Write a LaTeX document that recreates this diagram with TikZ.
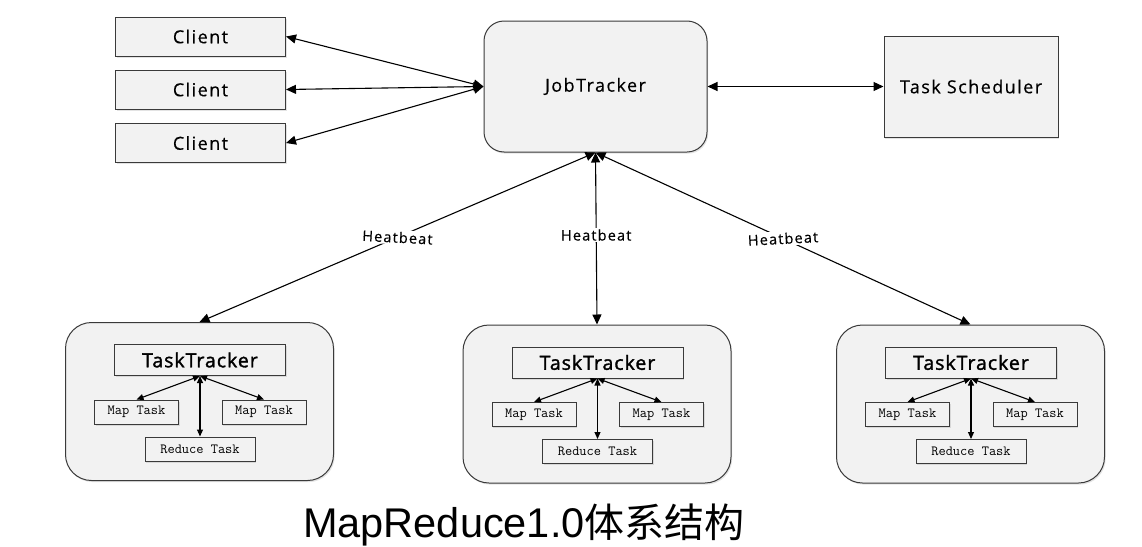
\documentclass[tikz,border=0pt]{standalone}
\usepackage{fontspec}
\setmainfont{Open Sans}[LetterSpace=8,FakeBold=0.4]
\newfontfamily\titlefont{Liberation Sans}
\newfontfamily\cjkfont{Noto Sans CJK SC}
\newfontfamily\ttheadfont{Open Sans}[LetterSpace=5,FakeBold=1.6]
\newfontfamily\hbfont{Open Sans}[LetterSpace=8,FakeBold=0.3]
\usetikzlibrary{arrows.meta,shadows}
\definecolor{boxfill}{HTML}{F2F2F2}
\definecolor{boxline}{HTML}{3A3A3A}
\tikzset{
  shade/.style={drop shadow={opacity=0.22,shadow xshift=1.2pt,shadow yshift=-1.6pt}},
  plainbox/.style={draw=boxline,line width=1pt,fill=boxfill,shade,inner sep=0pt,font=\fontsize{18}{20}\selectfont},
  roundbox/.style={plainbox,rounded corners=20pt},
  outerbox/.style={draw=boxline,line width=1pt,fill=boxfill,shade,rounded corners=26pt,minimum width=268pt,minimum height=158pt,inner sep=0pt},
  ttbox/.style={plainbox,minimum width=171pt,minimum height=31pt,font=\ttheadfont\fontsize{19.5}{21}\selectfont},
  taskbox/.style={plainbox,minimum height=24pt,font=\ttfamily\fontsize{14}{16}\selectfont},
  conn/.style={draw=black,line width=1.1pt,{Triangle[length=10pt,width=9pt]}-{Triangle[length=10pt,width=9pt]}},
  small/.style={draw=black,line width=1.1pt,{Triangle[length=7pt,width=6pt]}-{Triangle[length=7pt,width=6pt]}},
  hb/.style={fill=white,inner sep=1.5pt,font=\hbfont\fontsize{14.5}{16}\selectfont},
  tracker/.pic={
    \node[outerbox] (-outer) at (0,0) {};
    \node[ttbox] (-tt) at (0.5,-41.5) {TaskTracker};
    \node[taskbox,minimum width=84pt] (-m1) at (-63,10.5) {Map Task};
    \node[taskbox,minimum width=84pt] (-m2) at (64.5,10.5) {Map Task};
    \node[taskbox,minimum width=110pt] (-rd) at (0.5,47.5) {Reduce Task};
    \draw[small] (-tt.south) -- (-m1.north);
    \draw[small] (-tt.south) -- (-m2.north);
    \draw[small] (-tt.south) -- (-rd.north);
  }
}
\begin{document}
\begin{tikzpicture}[x=1pt,y=-1pt]
\useasboundingbox[fill=white] (0,0) rectangle (1142,546);
% clients
\node[plainbox,minimum width=170pt,minimum height=39pt] (c1) at (200.5,36.5) {Client};
\node[plainbox,minimum width=170pt,minimum height=39pt] (c2) at (200.5,89.5) {Client};
\node[plainbox,minimum width=170pt,minimum height=39pt] (c3) at (200.5,143) {Client};
% job tracker
\node[roundbox,minimum width=223pt,minimum height=131pt] (jt) at (595.5,86.5) {JobTracker};
% task scheduler
\node[plainbox,minimum width=174pt,minimum height=101pt] (ts) at (971,86.5) {Task Scheduler};
% task trackers
\pic (t1) at (199.5,401.5) {tracker};
\pic (t2) at (597,404) {tracker};
\pic (t3) at (970.5,404) {tracker};
% connectors
\draw[conn] (c1.east) -- (jt.west);
\draw[conn] (c2.east) -- (jt.west);
\draw[conn] (c3.east) -- (jt.west);
\draw[conn] (jt.east) -- (ts.west);
\draw[conn] (jt.south) -- node[hb,pos=0.5,rotate=-3] {Heatbeat} (t1-outer.north);
\draw[conn] (jt.south) -- node[hb,pos=0.48] {Heatbeat} (t2-outer.north);
\draw[conn] (jt.south) -- node[hb,pos=0.5,rotate=3] {Heatbeat} (t3-outer.north);
% title
\node[anchor=base west,inner sep=0pt] (title) at (303,537) {\titlefont\fontsize{41.5}{46}\selectfont MapReduce1.0\cjkfont\fontsize{40}{46}\selectfont 体系结构};
\end{tikzpicture}
\end{document}
